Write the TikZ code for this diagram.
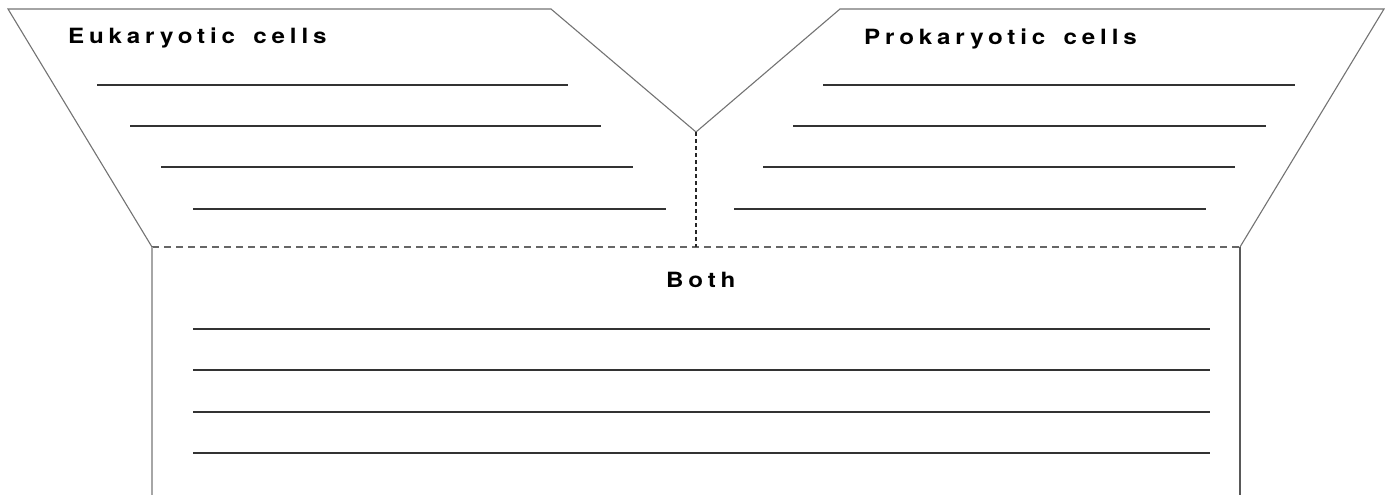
\documentclass[tikz,border=0pt]{standalone}
\usepackage{fontspec}
\setmainfont{Liberation Sans}
\newfontfamily\headfont[LetterSpace=23,WordSpace=1.6,FakeStretch=1.15,UprightFont=*-bold,Extension=.otf]{texgyreheros}
\begin{document}
\begin{tikzpicture}[x=1pt,y=-1pt,
  outline/.style={draw=black!55,line width=1.1pt},
  writeline/.style={draw=black!80,line width=1.1pt},
  seam/.style={draw=black!60,line width=1.1pt,dash pattern=on 7pt off 5pt},
  fold/.style={draw=black!85,line width=1.1pt,dash pattern=on 4pt off 3pt},
  head/.style={inner sep=0pt,font=\headfont\fontsize{21}{23}\selectfont}]
\useasboundingbox (0,0) rectangle (1390,495);
% corners of the folded sheet
\coordinate (tl) at (8,9);
\coordinate (tml) at (551,9);
\coordinate (v) at (696,132);
\coordinate (tmr) at (840,9);
\coordinate (tr) at (1384,9);
\coordinate (bl) at (152,247);
\coordinate (br) at (1240,247);
\coordinate (vb) at (696,247);
\coordinate (ll) at (152,495);
\coordinate (lr) at (1240,495);
% outline of the two flaps
\draw[outline] (bl) -- (tl) -- (tml) -- (v) -- (tmr) -- (tr) -- (br);
% fold lines
\draw[seam] (bl) -- (br);
\draw[fold] (v) -- (vb);
% sides of the lower panel
\draw[draw=black!35,line width=2pt] (bl) -- (ll);
\draw[draw=black!65,line width=1.3pt] (br) -- (lr);
% headings
\node[head,anchor=base west] (euk) at (68,43.5) {Eukaryotic cells};
\node[head,anchor=base west] (pro) at (864,44.5) {Prokaryotic cells};
\node[head,anchor=base west] (both) at (666,287) {Both};
% writing lines, left flap
\foreach \y/\a/\b in {85/97/568,126/130/601,167/161/633,209/193/666}
  \draw[writeline] (\a,\y) -- (\b,\y);
% writing lines, right flap
\foreach \y/\a/\b in {85/823/1295,126/793/1266,167/763/1235,209/734/1206}
  \draw[writeline] (\a,\y) -- (\b,\y);
% writing lines, lower panel
\foreach \y in {329,370,412,453}
  \draw[writeline] (193,\y) -- (1210,\y);
\end{tikzpicture}
\end{document}
